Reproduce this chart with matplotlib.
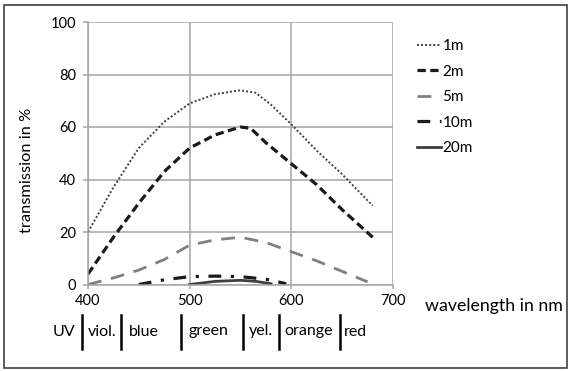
import matplotlib
matplotlib.use("Agg")
import matplotlib.pyplot as plt
from matplotlib.patches import Rectangle

plt.rcParams['font.family'] = ['Lato', 'DejaVu Sans']

# ---- data ----
wl_1m = [400, 425, 450, 475, 500, 525, 550, 565, 580, 600, 625, 650, 680]
tr_1m = [20, 37, 52, 62, 69, 72.5, 74, 73, 68.5, 61, 51, 42, 30]

wl_2m = [400, 425, 450, 475, 500, 525, 550, 560, 575, 600, 625, 650, 680]
tr_2m = [4, 18, 31, 43, 52, 57, 60, 59.5, 54, 46, 38, 28.5, 18]

wl_5m = [400, 425, 450, 475, 500, 525, 550, 575, 600, 625, 650, 675]
tr_5m = [0, 2.5, 5.5, 9.5, 15, 17, 18, 16, 12.5, 9, 5, 1]

wl_10m = [450, 475, 500, 525, 550, 575, 595]
tr_10m = [0, 1.8, 3, 3.2, 3, 2, 0.3]

wl_20m = [500, 525, 550, 565, 580]
tr_20m = [0, 1.2, 1.6, 1.2, 0.3]

series_labels = ['1m', '2m', '5m', '10m', '20m']
x_ticks = [400, 500, 600, 700]
y_ticks = [0, 20, 40, 60, 80, 100]

band_names = ['UV', 'viol.', 'blue', 'green', 'yel.', 'orange', 'red']
band_centers = [376, 414, 455, 518.6, 569.6, 616.7, 662.7]
band_bounds = [394, 432, 491, 552, 587.5, 648]

# ---- figure ----
fig = plt.figure(figsize=(5.70, 3.71), dpi=100)
ax = fig.add_axes([88/570, 1 - 284.5/371, (393-88)/570, (284.5-22)/371])

grid_c = '#a6a6a6'
ax.set_xlim(400, 700)
ax.set_ylim(0, 100)
ax.set_xticks(x_ticks)
ax.set_yticks(y_ticks)
ax.grid(True, color=grid_c, lw=1.1)
ax.set_axisbelow(True)
for s in ['top', 'right']:
    ax.spines[s].set_visible(False)
for s in ['left', 'bottom']:
    ax.spines[s].set_color(grid_c)
    ax.spines[s].set_linewidth(1.1)
ax.tick_params(axis='both', color=grid_c, width=1.1, labelsize=10.5, labelcolor='black')
ax.tick_params(axis='y', length=3.6, pad=5)
ax.tick_params(axis='x', length=3, pad=3.5)

ax.plot(wl_1m, tr_1m, color='#404040', lw=1.4, ls=(0, (1, 1.1)), label=series_labels[0])
ax.plot(wl_2m, tr_2m, color='#1a1a1a', lw=2.3, ls=(0, (2.6, 1.4)), label=series_labels[1])
ax.plot(wl_5m, tr_5m, color='#808080', lw=2.0, ls=(0, (5, 3.5)), label=series_labels[2])
ax.plot(wl_10m, tr_10m, color='#1a1a1a', lw=2.3, ls=(0, (4, 3, 1, 3)), label=series_labels[3])
ax.plot(wl_20m, tr_20m, color='#404040', lw=2.0, ls='-', label=series_labels[4])

leg = ax.legend(loc='upper left', bbox_to_anchor=(416.5/570, 1 - 39/371),
                bbox_transform=fig.transFigure, frameon=False, fontsize=11,
                handlelength=1.6, handletextpad=0.1, labelspacing=0.76,
                borderaxespad=0, borderpad=0)

# axis labels
fig.text(26.7/570, 1 - 170/371, 'transmission in %', rotation=90,
         ha='center', va='center', fontsize=11.8)
fig.text(425/570, 1 - 306/371, 'wavelength in nm', ha='left', va='center', fontsize=12.8)

# colour bands row
tr = ax.get_xaxis_transform()
y_text = (284.5 - 331.5) / (284.5 - 22)
y_b0 = (284.5 - 315) / (284.5 - 22)
y_b1 = (284.5 - 349) / (284.5 - 22)
for name, c in zip(band_names, band_centers):
    ax.text(c, y_text, name, transform=tr, ha='center', va='center', fontsize=11.5)
for b in band_bounds:
    ax.plot([b, b], [y_b0, y_b1], transform=tr, color='black', lw=1.8, clip_on=False)

# outer frame
fig.patches.append(Rectangle((4/570, 1 - 368/371), (567-4)/570, (368-4.5)/371,
                             transform=fig.transFigure, fill=False,
                             edgecolor='#404040', lw=1.2))

fig.savefig('out.png', dpi=100)
